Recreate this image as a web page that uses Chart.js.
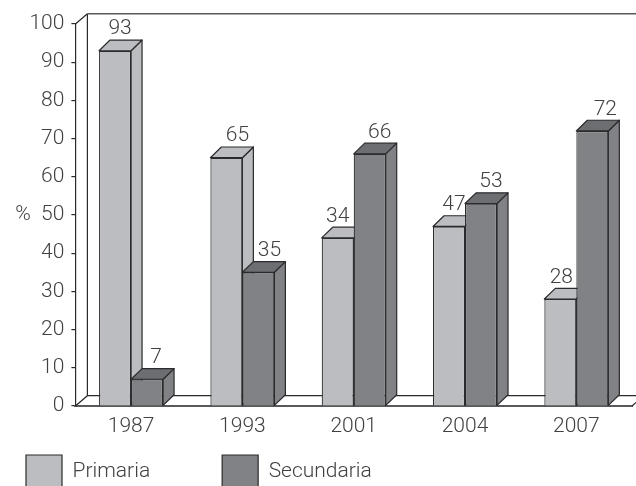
<!DOCTYPE html>
<html><head><meta charset="utf-8">
<style>html,body{margin:0;padding:0;background:#fff}canvas{display:block}</style>
<script src="https://cdn.jsdelivr.net/npm/chart.js@4"></script>
</head><body><canvas id="c" width="636" height="486"></canvas>
<script>
const categories = ['1987','1993','2001','2004','2007'];
const primaria = [93,65,44,47,28];
const secundaria = [7,35,66,53,72];
const primariaLabels = ['93','65','34','47','28'];
const secundariaLabels = ['7','35','66','53','72'];
const yTicks = [0,10,20,30,40,50,60,70,80,90,100];

const FONT = {family:'Roboto', size:21, weight:'300'};
const INK = '#414042';
const EDGE = '#2b2a2c';
const primariaNudge = [5,11,0,5,1];
const secundariaNudge = [9,11,10,10,13];

const scene = {
  id:'scene',
  beforeLayout(chart){
    const l = chart.legend;
    if(l && !l._patched){
      const f = l.fit;
      l.fit = function(){ f.call(this); this.height = 40; };
      l._patched = true;
    }
  },
  afterLayout(chart){
    const l = chart.legend;
    l.left = -46;
    l.top = 383;
  },
  beforeDatasetsDraw(chart){
    const {ctx, chartArea:a} = chart;
    const wx = 12, wy = 10.3;
    ctx.save();
    ctx.lineWidth = 1.2;
    ctx.strokeStyle = EDGE;
    ctx.beginPath();
    ctx.moveTo(a.left,a.bottom); ctx.lineTo(a.left+wx,a.bottom-wy); ctx.lineTo(a.right+wx,a.bottom-wy);
    ctx.moveTo(a.left+wx,a.bottom-wy); ctx.lineTo(a.left+wx,a.top-wy);
    ctx.moveTo(a.left,a.top); ctx.lineTo(a.left+wx,a.top-wy);
    ctx.moveTo(a.right,a.bottom); ctx.lineTo(a.right+wx,a.bottom-wy);
    ctx.stroke();
    ctx.strokeStyle = '#58595b';
    ctx.lineWidth = 1.5;
    ctx.beginPath();
    ctx.moveTo(a.left+wx,a.top-wy); ctx.lineTo(a.right+wx,a.top-wy);
    ctx.stroke();
    const faces = [['#bbbdc0','#bbbdc0'],['#6d6e71','#808285']];
    const dx = 11, dy = 10.7;
    faces.forEach((f,i)=>{
      chart.getDatasetMeta(i).data.forEach(b=>{
        const L=b.x-b.width/2, R=b.x+b.width/2, T=b.y, B=b.base;
        ctx.lineWidth = 1.2; ctx.strokeStyle = EDGE; ctx.lineJoin='round';
        ctx.fillStyle = f[1];
        ctx.beginPath(); ctx.moveTo(R,T); ctx.lineTo(R+dx,T-dy); ctx.lineTo(R+dx,B-dy); ctx.lineTo(R,B); ctx.closePath(); ctx.fill(); ctx.stroke();
        ctx.fillStyle = f[0];
        ctx.beginPath(); ctx.moveTo(L,T); ctx.lineTo(L+dx,T-dy); ctx.lineTo(R+dx,T-dy); ctx.lineTo(R,T); ctx.closePath(); ctx.fill(); ctx.stroke();
      });
    });
    ctx.restore();
  },
  afterDatasetsDraw(chart){
    const {ctx} = chart;
    ctx.save();
    ctx.font = `${FONT.weight} ${FONT.size}px ${FONT.family}`;
    ctx.fillStyle = INK; ctx.textAlign='center'; ctx.textBaseline='middle';
    [[primariaLabels,primariaNudge],[secundariaLabels,secundariaNudge]].forEach(([txt,n],i)=>{
      chart.getDatasetMeta(i).data.forEach((b,j)=>{
        ctx.fillText(txt[j], b.x+n[j], b.y-21.5);
      });
    });
    ctx.restore();
  }
};

new Chart(document.getElementById('c'),{
  type:'bar',
  data:{labels:categories,datasets:[
    {label:'Primaria',data:primaria,backgroundColor:'#bbbdc0',borderColor:EDGE,borderWidth:1.2,categoryPercentage:0.575,barPercentage:1},
    {label:'Secundaria',data:secundaria,backgroundColor:'#808285',borderColor:EDGE,borderWidth:1.2,categoryPercentage:0.575,barPercentage:1}
  ]},
  options:{
    responsive:false,animation:false,devicePixelRatio:1,
    layout:{padding:{top:24,right:4,left:0,bottom:0}},
    plugins:{
      tooltip:{enabled:false},
      legend:{position:'bottom',align:'start',
        labels:{boxWidth:36,boxHeight:34,padding:72,color:INK,font:FONT}}
    },
    scales:{
      x:{
        afterFit(s){s.height=40;},
        grid:{display:false},
        border:{color:'#58595b',width:2},
        ticks:{color:INK,font:FONT,padding:0,maxRotation:0}
      },
      y:{
        min:0,max:100,
        afterFit(s){s.width=75.4;},
        afterBuildTicks(s){s.ticks=yTicks.map(v=>({value:v}));},
        grid:{drawOnChartArea:false,drawTicks:true,tickLength:4,color:EDGE,lineWidth:1.2},
        border:{color:EDGE,width:1.2},
        ticks:{color:INK,font:FONT,padding:7,autoSkip:false,callback:v=>v===50?'%  50':String(v)}
      }
    }
  },
  plugins:[scene]
});
</script></body></html>
